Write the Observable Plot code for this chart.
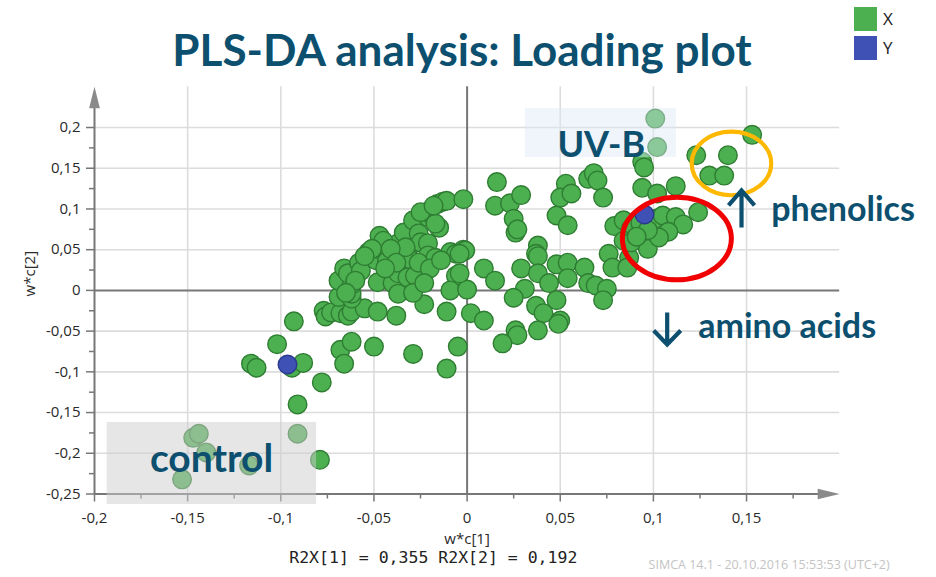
<!DOCTYPE html>
<html>
<head>
<meta charset="utf-8">
<script src="https://cdn.jsdelivr.net/npm/d3@7"></script>
<script src="https://cdn.jsdelivr.net/npm/@observablehq/plot@0.6"></script>
<style>
html, body { margin: 0; padding: 0; background: #fff; }
#wrap { position: relative; width: 936px; height: 577px; overflow: hidden; background: #fff; }
#title { position: absolute; left: 0; width: 924px; top: 26.5px; text-align: center;
  font: bold 44px Lato, sans-serif; line-height: 44px; color: #0c4f6e; white-space: nowrap; }
.leg { position: absolute; left: 854px; width: 23px; height: 24px; }
.legt { position: absolute; left: 883px; font: 17px "Open Sans", sans-serif; color: #222; line-height: 24px; }
#chart { position: absolute; left: 0; top: 80px; }
</style>
</head>
<body>
<div id="wrap">
  <div id="title">PLS-DA analysis: Loading plot</div>
  <div id="legend"></div>
  <div id="chart"></div>
</div>
<script>
// ---------- data ----------
const seriesNames = ["X", "Y"];
const palette = ["#4caf50", "#3f51b5"];

// X-block loadings: w*c[1]
const xLoad = [
  -0.116,-0.113,-0.102,-0.093,-0.094,-0.088,-0.091,-0.078,-0.079,-0.147,
  -0.144,-0.140,-0.117,-0.153,-0.091,-0.068,-0.066,-0.062,-0.050,-0.029,
  -0.011,-0.005,-0.077,-0.076,-0.073,-0.068,-0.064,-0.062,-0.055,-0.048,
  -0.038,-0.023,-0.011, 0.002, 0.009,-0.069,-0.062,-0.062,-0.069,-0.062,
  -0.066,-0.064,-0.058,-0.057,-0.053,-0.049,-0.047,-0.048,-0.043,-0.043,
  -0.048,-0.040,-0.037,-0.037,-0.035,-0.032,-0.030,-0.037,-0.032,-0.028,
  -0.029,-0.034,-0.029,-0.026,-0.025,-0.021,-0.021,-0.017,-0.021,-0.022,
  -0.016,-0.013,-0.011,-0.015,-0.017,-0.002,-0.009,-0.006,-0.002,-0.006,
  -0.009, 0.000,-0.033,-0.025,-0.018,-0.045,-0.051,-0.055,-0.060,-0.065,
  -0.041,-0.038,-0.026,-0.020,-0.014,-0.023,-0.044, 0.016, 0.015, 0.023,
   0.029, 0.025, 0.026, 0.027, 0.053, 0.050, 0.056, 0.048, 0.054, 0.065,
   0.068, 0.070, 0.073, 0.094, 0.095, 0.094, 0.102, 0.112, 0.123, 0.140,
   0.130, 0.138, 0.153, 0.124, 0.079, 0.084, 0.088, 0.084, 0.087, 0.076,
   0.078, 0.086, 0.097, 0.101, 0.105, 0.112, 0.116, 0.108, 0.103, 0.088,
   0.093, 0.097, 0.091,-0.001,-0.004, 0.038, 0.037, 0.038, 0.009, 0.015,
   0.029, 0.031, 0.025, 0.038, 0.044, 0.048, 0.054, 0.054, 0.063, 0.065,
   0.069, 0.075, 0.073, 0.048, 0.037, 0.041, 0.050, 0.049, 0.038, 0.026,
   0.027, 0.019,-0.004, 0.101, 0.102
];
// X-block loadings: w*c[2]
const yLoad = [
  -0.090,-0.095,-0.066,-0.038,-0.095,-0.089,-0.140,-0.113,-0.208,-0.181,
  -0.176,-0.199,-0.215,-0.232,-0.176,-0.073,-0.090,-0.063,-0.069,-0.078,
  -0.096,-0.069,-0.025,-0.032,-0.027,-0.028,-0.031,-0.026,-0.022,-0.026,
  -0.031,-0.017,-0.026,-0.028,-0.037,-0.008,-0.010,-0.004, 0.012, 0.007,
   0.027, 0.021, 0.034, 0.024, 0.047, 0.037, 0.067, 0.051, 0.043, 0.036,
   0.010, 0.009,-0.004, 0.058, 0.043, 0.047, 0.037, 0.021, 0.016, 0.018,
  -0.003, 0.071, 0.086, 0.070, 0.059, 0.058, 0.043, 0.040, 0.090, 0.096,
   0.106, 0.109, 0.110, 0.077, 0.082, 0.112, 0.047, 0.045, 0.050, 0.018,
   0.000, 0.001, 0.053, 0.096, 0.104, 0.061, 0.051, 0.042, 0.012,-0.003,
   0.051, 0.034, 0.034, 0.027, 0.037, 0.009, 0.027, 0.133, 0.104, 0.107,
   0.117, 0.088, 0.071, 0.075, 0.131, 0.114, 0.119, 0.092, 0.080, 0.137,
   0.144, 0.135, 0.114, 0.158, 0.151, 0.126, 0.119, 0.128, 0.166, 0.166,
   0.141, 0.141, 0.191, 0.096, 0.079, 0.086, 0.076, 0.061, 0.040, 0.045,
   0.028, 0.028, 0.051, 0.088, 0.092, 0.090, 0.081, 0.072, 0.065, 0.059,
   0.083, 0.074, 0.066, 0.049, 0.045, 0.055, 0.045, 0.042, 0.027, 0.012,
   0.027, 0.002,-0.009, 0.021, 0.009, 0.032, 0.034, 0.015, 0.028, 0.009,
   0.006, 0.002,-0.012,-0.012,-0.019,-0.028,-0.037,-0.041,-0.049,-0.049,
  -0.055,-0.065, 0.021, 0.211, 0.176
];
// Y-block loadings (the two class responses)
const xResp = [-0.0964, 0.0952];
const yResp = [-0.0910, 0.0932];

// axis ticks
const xMajor = [-0.2, -0.15, -0.1, -0.05, 0, 0.05, 0.1, 0.15];
const xMinor = [-0.175, -0.125, -0.075, -0.025, 0.025, 0.075, 0.125, 0.175];
const yMajor = [-0.25, -0.2, -0.15, -0.1, -0.05, 0, 0.05, 0.1, 0.15, 0.2];
const yMinor = [-0.225, -0.175, -0.125, -0.075, -0.025, 0.025, 0.075, 0.125, 0.175];
const xGrid = [-0.15, -0.1, -0.05, 0.05, 0.1, 0.15];
const yGrid = [-0.2, -0.15, -0.1, -0.05, 0.05, 0.1, 0.15, 0.2];

// annotation labels
const groupLabels = ["UV-B", "control"];
const effectLabels = ["phenolics", "amino acids"];

// ---------- build ----------
const loadingsX = xLoad.map((x, i) => ({x, y: yLoad[i]}));
const loadingsY = xResp.map((x, i) => ({x, y: yResp[i]}));

const legend = document.getElementById("legend");
seriesNames.forEach((name, i) => {
  const top = 7 + i * 29;
  legend.insertAdjacentHTML("beforeend",
    `<div class="leg" style="top:${top}px;background:${palette[i]}"></div><div class="legt" style="top:${top}px">${name}</div>`);
});

const fmt = d => String(d).replace(".", ",");
const teal = "#0c4f6e";
const axisGrey = "#777";

// custom symbols (fixed pixel shapes)
const upHead = {draw(c) { c.moveTo(0, 0); c.lineTo(5.4, 21.5); c.lineTo(-5.4, 21.5); c.closePath(); }};
const rightHead = {draw(c) { c.moveTo(0, 0); c.lineTo(-22, 5.2); c.lineTo(-22, -5.2); c.closePath(); }};
function ellipse(rx, ry) {
  const k = 0.5523;
  return {draw(c) {
    c.moveTo(rx, 0);
    c.bezierCurveTo(rx, ry * k, rx * k, ry, 0, ry);
    c.bezierCurveTo(-rx * k, ry, -rx, ry * k, -rx, 0);
    c.bezierCurveTo(-rx, -ry * k, -rx * k, -ry, 0, -ry);
    c.bezierCurveTo(rx * k, -ry, rx, -ry * k, rx, 0);
    c.closePath();
  }};
}
function chevronArrow(len, hw, hl, dir) {
  const s = dir; // -1 up, +1 down
  return {draw(c) {
    c.moveTo(0, -s * len / 2); c.lineTo(0, s * len / 2);
    c.moveTo(-hw, s * (len / 2 - hl)); c.lineTo(0, s * len / 2); c.lineTo(hw, s * (len / 2 - hl));
  }};
}

const lato = "Lato, sans-serif";

const chart = Plot.plot({
  width: 936,
  height: 497,
  marginTop: 6.3,
  marginBottom: 83.5,
  marginLeft: 94,
  marginRight: 96.8,
  x: {domain: [-0.2, 0.2], axis: null, label: null},
  y: {domain: [-0.25, 0.25], axis: null, label: null},
  style: {fontFamily: "'Open Sans', sans-serif", background: "white", overflow: "visible"},
  marks: [
    // grid
    Plot.ruleX(xGrid, {y1: -0.25, y2: 0.25, stroke: "#dcdcdc", strokeWidth: 1.6}),
    Plot.ruleY(yGrid, {x1: -0.2, x2: 0.2, stroke: "#dcdcdc", strokeWidth: 1.6}),
    // zero lines
    Plot.ruleX([0], {y1: -0.25, y2: 0.25, stroke: axisGrey, strokeWidth: 2}),
    Plot.ruleY([0], {x1: -0.2, x2: 0.2, stroke: axisGrey, strokeWidth: 2}),
    // axis lines
    Plot.ruleX([-0.2], {y1: -0.25, y2: 0.23, stroke: axisGrey, strokeWidth: 2}),
    Plot.ruleY([-0.25], {x1: -0.2, x2: 0.19, stroke: axisGrey, strokeWidth: 2}),
    Plot.dot([{x: -0.2, y: 0.25}], {x: "x", y: "y", r: 1, symbol: upHead, fill: "#8a8a8a", stroke: "none"}),
    Plot.dot([{x: 0.2, y: -0.25}], {x: "x", y: "y", r: 1, symbol: rightHead, fill: "#8a8a8a", stroke: "none"}),
    // ticks + labels
    Plot.axisX({ticks: xMajor, tickSize: 8, tickPadding: 10, tickFormat: fmt, fontSize: 15,
      fill: "#2a2a2a", stroke: axisGrey, strokeWidth: 1.5, label: null, anchor: "bottom"}),
    Plot.axisX({ticks: xMinor, tickSize: 5, tickFormat: () => "", stroke: axisGrey, strokeWidth: 1.5, label: null, anchor: "bottom"}),
    Plot.axisY({ticks: yMajor, tickSize: 8, tickPadding: 6, tickFormat: fmt, fontSize: 15,
      fill: "#2a2a2a", stroke: axisGrey, strokeWidth: 1.5, label: null, anchor: "left"}),
    Plot.axisY({ticks: yMinor, tickSize: 5, tickFormat: () => "", stroke: axisGrey, strokeWidth: 1.5, label: null, anchor: "left"}),
    // axis titles
    Plot.text(["w*c[2]"], {frameAnchor: "left", dx: -64, dy: 6, rotate: -90, fontSize: 15, fill: "#2a2a2a"}),
    Plot.text(["w*c[1]"], {frameAnchor: "bottom", dy: 49.5, fontSize: 15, fill: "#2a2a2a"}),
    Plot.text(["R2X[1] = 0,355 R2X[2] = 0,192"], {frameAnchor: "bottom", dx: -33.8, dy: 69,
      fontSize: 16.5, fontFamily: "'DejaVu Sans Mono', monospace", fill: "#222"}),
    Plot.text(["SIMCA 14.1 - 20.10.2016 15:53:53 (UTC+2)"], {frameAnchor: "bottom", dx: 302, dy: 75,
      fontSize: 12.5, fill: "#c4c4c4"}),
    // loadings
    Plot.dot(loadingsX, {x: "x", y: "y", r: 9.3, fill: palette[0], stroke: "#2e7d32", strokeWidth: 1.4}),
    Plot.dot(loadingsY, {x: "x", y: "y", r: 9.3, fill: palette[1], stroke: "#2b3a8f", strokeWidth: 1.4}),
    // group boxes
    Plot.rect([{x1: 0.0313, x2: 0.1124, y1: 0.1632, y2: 0.2234}],
      {x1: "x1", x2: "x2", y1: "y1", y2: "y2", fill: "rgb(220,233,244)", fillOpacity: 0.45}),
    Plot.rect([{x1: -0.1932, x2: -0.0808, y1: -0.2629, y2: -0.1622}],
      {x1: "x1", x2: "x2", y1: "y1", y2: "y2", fill: "rgb(205,205,205)", fillOpacity: 0.5}),
    // ellipses
    Plot.dot([{x: 0.1126, y: 0.0637}], {x: "x", y: "y", r: 1, symbol: ellipse(54.5, 41.2), fill: "none", stroke: "#f00000", strokeWidth: 5}),
    Plot.dot([{x: 0.1419, y: 0.1559}], {x: "x", y: "y", r: 1, symbol: ellipse(39.8, 31.8), fill: "none", stroke: "#ffb800", strokeWidth: 4.2}),
    // arrows
    Plot.dot([{x: 0.1473, y: 0.1}], {x: "x", y: "y", r: 1, symbol: chevronArrow(37, 13, 15, -1), fill: "none", stroke: teal, strokeWidth: 4.2}),
    Plot.dot([{x: 0.1074, y: -0.0468}], {x: "x", y: "y", r: 1, symbol: chevronArrow(32, 13.5, 14, 1), fill: "none", stroke: teal, strokeWidth: 4.2}),
    // annotation text
    Plot.text([{t: groupLabels[0], x: 0.072, y: 0.1644}], {x: "x", y: "y", text: "t", lineAnchor: "bottom",
      fontSize: 36, fontWeight: "bold", fontFamily: lato, fill: teal}),
    Plot.text([{t: groupLabels[1], x: -0.1372, y: -0.2232}], {x: "x", y: "y", text: "t", lineAnchor: "bottom",
      fontSize: 39, fontWeight: "bold", fontFamily: lato, fill: teal}),
    Plot.text([{t: effectLabels[0], x: 0.2018, y: 0.0858}], {x: "x", y: "y", text: "t", lineAnchor: "bottom",
      fontSize: 34, fontWeight: "bold", fontFamily: lato, fill: teal}),
    Plot.text([{t: effectLabels[1], x: 0.1718, y: -0.0582}], {x: "x", y: "y", text: "t", lineAnchor: "bottom",
      fontSize: 34, fontWeight: "bold", fontFamily: lato, fill: teal})
  ]
});
document.getElementById("chart").appendChild(chart);
</script>
</body>
</html>
